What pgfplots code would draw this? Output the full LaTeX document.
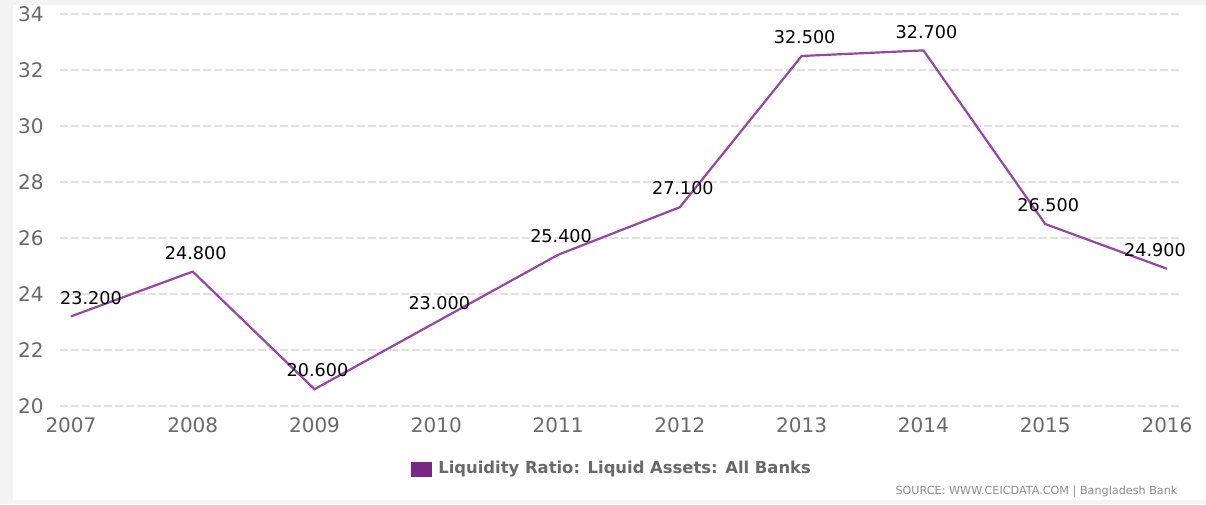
\documentclass[border=0pt]{standalone}
\usepackage{fontspec}
\setmainfont{DejaVu Sans}
\usepackage{pgfplots}
\pgfplotsset{compat=1.18}
\definecolor{linepurple}{RGB}{150,70,165}
\definecolor{legpurple}{RGB}{120,40,135}
\definecolor{tickgray}{RGB}{105,105,105}
\definecolor{gridgray}{RGB}{224,224,224}
\definecolor{bggray}{RGB}{243,243,243}
\definecolor{srcgray}{RGB}{140,140,140}
\begin{document}
\begin{tikzpicture}
\fill[bggray] (0,0) rectangle (603pt,252pt);
\fill[white] (6.5pt,2pt) rectangle (603pt,249.5pt);
\begin{axis}[
  at={(30pt,49pt)}, anchor=south west,
  scale only axis, width=560pt, height=196pt,
  xmin=2006.91, xmax=2016.107, ymin=20, ymax=34,
  xtick={2007,2008,2009,2010,2011,2012,2013,2014,2015,2016},
  xticklabels={2007,2008,2009,2010,2011,2012,2013,2014,2015,2016},
  ytick={20,22,24,26,28,30,32,34},
  yticklabels={20,22,24,26,28,30,32,34},
  xticklabel style={inner sep=0pt, yshift=-5.5pt, text=tickgray, font=\fontsize{10}{12}\selectfont},
  yticklabel style={inner sep=0pt, xshift=-8pt, text=tickgray, font=\fontsize{10}{12}\selectfont},
  axis line style={draw=none},
  major tick length=0pt,
  ymajorgrids,
  major grid style={gridgray, line width=0.6pt, dash pattern=on 4pt off 1.5pt},
  clip=false,
  legend style={at={(axis description cs:0.4935,-0.1607)}, anchor=center, draw=none, fill=none,
    font=\fontsize{8.2}{10}\selectfont\bfseries, text=tickgray, inner sep=0pt},
]
\addlegendimage{legend image code/.code={\fill[legpurple] (0pt,-3.5pt) rectangle (10pt,3.5pt);}}
\addlegendentry{\hspace{1.5pt}Liquidity Ratio: Liquid Assets: All Banks}
\addplot[linepurple, line width=1.1pt, forget plot, mark=none,
  nodes near coords, point meta=explicit symbolic,
  visualization depends on={value \thisrow{dx} \as \dx},
  every node near coord/.style={anchor=south, inner sep=0pt, yshift=5.5pt, xshift=\dx pt, text=black, font=\fontsize{8.8}{10}\selectfont}]
table[x=x, y=y, meta=lab] {
x y lab dx
2007 23.2 23.200 10
2008 24.8 24.800 1.5
2009 20.6 20.600 1.5
2010 23.0 23.000 1.5
2011 25.4 25.400 1.5
2012 27.1 27.100 1.5
2013 32.5 32.500 1.5
2014 32.7 32.700 1.5
2015 26.5 26.500 1.5
2016 24.9 24.900 -6
};
\node[anchor=east, inner sep=0pt, text=srcgray, font=\fontsize{5.6}{7}\selectfont] at (axis description cs:0.998,-0.217) {SOURCE: WWW.CEICDATA.COM | Bangladesh Bank};
\end{axis}
\pgfresetboundingbox
\path (0,0) rectangle (603pt,252pt);
\end{tikzpicture}
\end{document}
